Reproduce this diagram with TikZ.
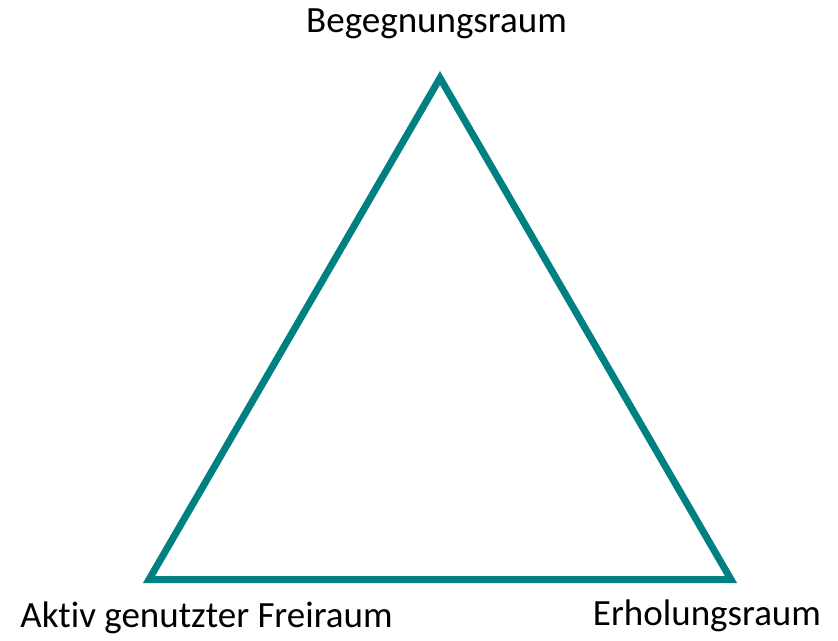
\documentclass[tikz,border=0pt]{standalone}
\usepackage{fontspec}
\setmainfont{Carlito}[Ligatures={NoCommon}]
\usetikzlibrary{positioning}
\definecolor{raumteal}{RGB}{0,128,128}
\tikzset{
  every picture/.append style={line join=miter},
  raum edge/.style={raumteal,line width=7pt},
  raum label/.style={inner sep=0pt,font=\fontsize{37}{44}\selectfont,text=black}
}
\begin{document}
\begin{tikzpicture}[x=1pt,y=-1pt]
  \useasboundingbox (0,0) rectangle (838,640);
  \coordinate (top) at (440,78);
  \coordinate (left) at (149,579.5);
  \coordinate (right) at (731,579.5);
  \draw[raum edge] (top) -- (right) -- (left) -- cycle;
  \node[raum label,anchor=base] (begegnung) at (436.5,32) {Begegnungsraum};
  \node[raum label,anchor=base] (aktiv) at (206.5,627) {Aktiv genutzter Freiraum};
  \node[raum label,anchor=base] (erholung) at (707,625) {Erholungsraum};
\end{tikzpicture}
\end{document}
